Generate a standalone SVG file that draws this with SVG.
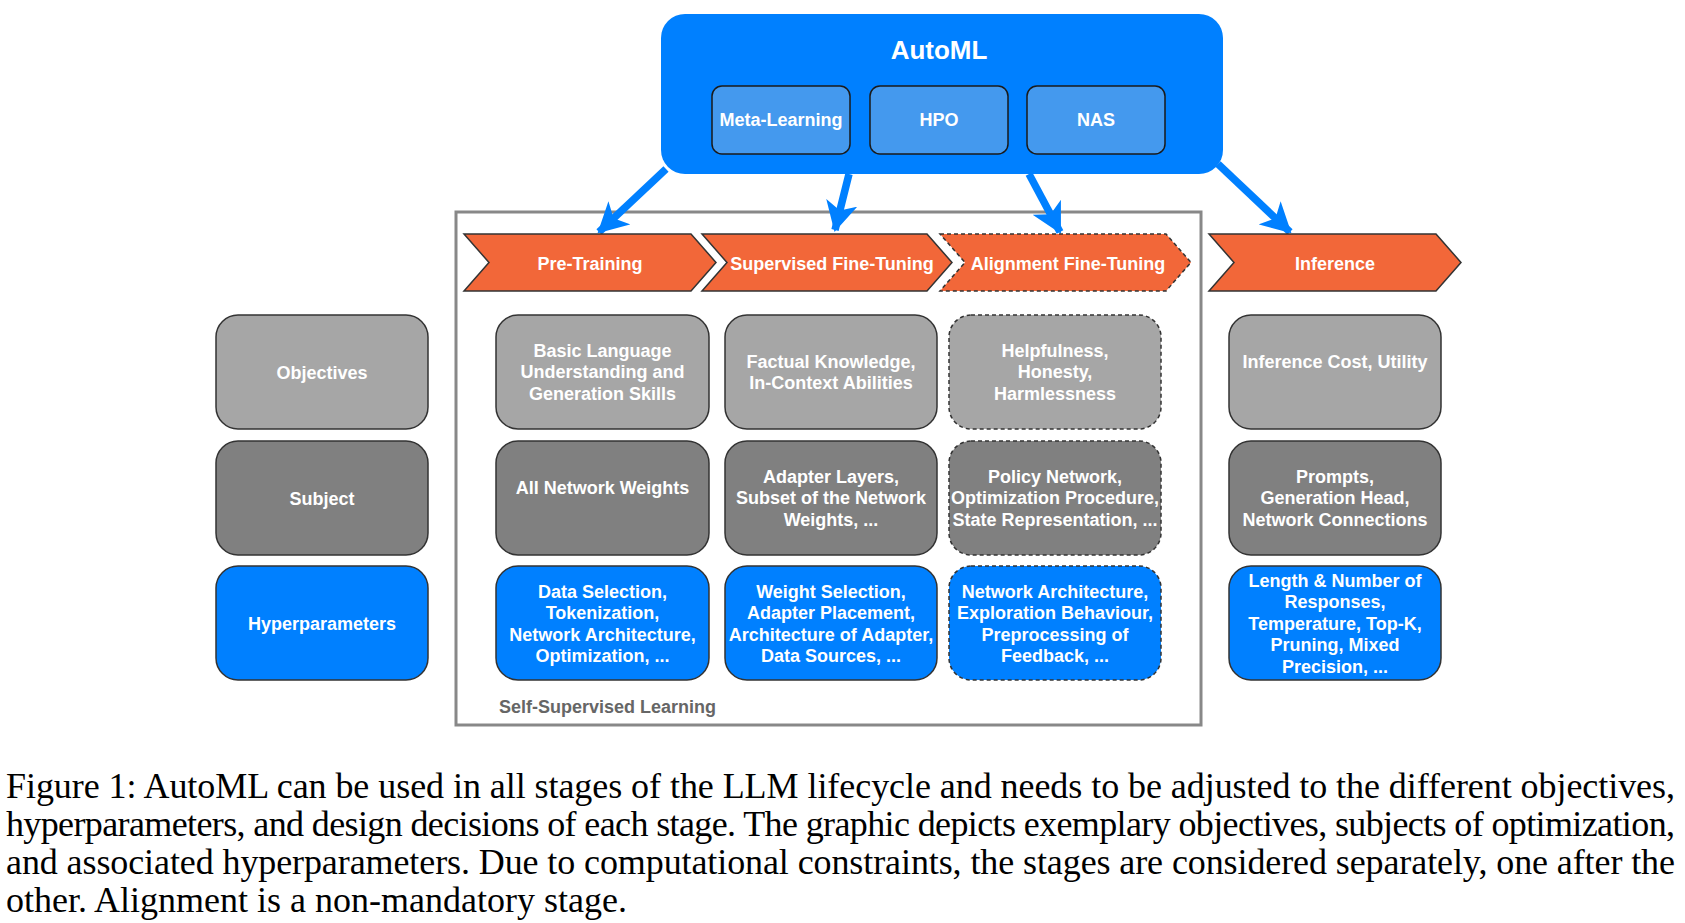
<svg xmlns="http://www.w3.org/2000/svg" width="1685" height="923" viewBox="0 0 1685 923">
<style>
.lbl{font-family:"Liberation Sans",Arial,sans-serif;font-weight:bold;font-size:18px;fill:#ffffff;text-anchor:middle}
.obj{fill:#a6a6a6;stroke:#333333;stroke-width:1.5}
.sub{fill:#808080;stroke:#333333;stroke-width:1.5}
.hyp{fill:#0080ff;stroke:#333333;stroke-width:1.5}
.dash{stroke-dasharray:4 3}
.chev{fill:#f26739;stroke:#333333;stroke-width:1.5}
.tech{fill:#4499ee;stroke:#1a1a1a;stroke-width:1.5}
.conn{stroke:#0080ff;stroke-width:7.5;fill:none;marker-end:url(#ah)}
.cap{font-family:"Liberation Serif","Times New Roman",serif;font-size:36px;fill:#000000}
</style>
<defs>
<marker id="ah" markerUnits="userSpaceOnUse" markerWidth="30" markerHeight="32" viewBox="0 0 30 32" refX="28" refY="16" orient="auto">
<path d="M0,0 L30,16 L0,32 L8,16 Z" fill="#0080ff"/>
</marker>
</defs>
<rect width="1685" height="923" fill="#ffffff"/>

<g id="frame">
<rect x="456" y="212" width="745" height="513" fill="none" stroke="#888888" stroke-width="3"/>
<text x="499" y="713" style="font-family:'Liberation Sans',Arial,sans-serif;font-weight:bold;font-size:18px;fill:#666666">Self-Supervised Learning</text>
</g>

<g id="automl">
<rect x="661" y="14" width="562" height="160" rx="24" fill="#0080ff"/>
<text x="939" y="59" class="lbl" style="font-size:26px">AutoML</text>
</g>
<g id="meta-learning"><rect x="712" y="86" width="138" height="68" rx="10" class="tech"/><text x="781" y="126" class="lbl">Meta-Learning</text></g>
<g id="hpo"><rect x="870" y="86" width="138" height="68" rx="10" class="tech"/><text x="939" y="126" class="lbl">HPO</text></g>
<g id="nas"><rect x="1027" y="86" width="138" height="68" rx="10" class="tech"/><text x="1096" y="126" class="lbl">NAS</text></g>

<g id="connectors">
<line x1="666" y1="169" x2="599" y2="232" class="conn"/>
<line x1="849" y1="174" x2="835" y2="230" class="conn"/>
<line x1="1029" y1="174" x2="1060" y2="232" class="conn"/>
<line x1="1218" y1="164" x2="1290" y2="232" class="conn"/>
</g>

<g id="pre-training"><path d="M464,234 L691,234 L716,262.5 L691,291 L464,291 L489,262.5 Z" class="chev"/><text x="590" y="270" class="lbl">Pre-Training</text></g>
<g id="supervised-fine-tuning"><path d="M702,234 L927,234 L952,262.5 L927,291 L702,291 L727,262.5 Z" class="chev"/><text x="832" y="270" class="lbl">Supervised Fine-Tuning</text></g>
<g id="alignment-fine-tuning"><path d="M940,234 L1166,234 L1191,262.5 L1166,291 L940,291 L965,262.5 Z" class="chev dash"/><text x="1068" y="270" class="lbl">Alignment Fine-Tuning</text></g>
<g id="inference"><path d="M1209,234 L1436,234 L1461,262.5 L1436,291 L1209,291 L1234,262.5 Z" class="chev"/><text x="1335" y="270" class="lbl">Inference</text></g>

<g id="objectives"><rect x="216" y="315" width="212" height="114" rx="22" class="obj"/><text x="322" y="378.5" class="lbl">Objectives</text></g>
<g id="subject"><rect x="216" y="441" width="212" height="114" rx="22" class="sub"/><text x="322" y="504.5" class="lbl">Subject</text></g>
<g id="hyperparameters"><rect x="216" y="566" width="212" height="114" rx="22" class="hyp"/><text x="322" y="629.5" class="lbl">Hyperparameters</text></g>

<g id="pt-objectives"><rect x="496" y="315" width="213" height="114" rx="22" class="obj"/><text class="lbl"><tspan x="602.5" y="356.5">Basic Language</tspan><tspan x="602.5" y="378">Understanding and</tspan><tspan x="602.5" y="399.5">Generation Skills</tspan></text></g>
<g id="pt-subject"><rect x="496" y="441" width="213" height="114" rx="22" class="sub"/><text x="602.5" y="493.5" class="lbl">All Network Weights</text></g>
<g id="pt-hyperparameters"><rect x="496" y="566" width="213" height="114" rx="22" class="hyp"/><text class="lbl"><tspan x="602.5" y="597.5">Data Selection,</tspan><tspan x="602.5" y="619">Tokenization,</tspan><tspan x="602.5" y="640.5">Network Architecture,</tspan><tspan x="602.5" y="662">Optimization, ...</tspan></text></g>

<g id="sft-objectives"><rect x="725" y="315" width="212" height="114" rx="22" class="obj"/><text class="lbl"><tspan x="831" y="367.5">Factual Knowledge,</tspan><tspan x="831" y="389">In-Context Abilities</tspan></text></g>
<g id="sft-subject"><rect x="725" y="441" width="212" height="114" rx="22" class="sub"/><text class="lbl"><tspan x="831" y="482.5">Adapter Layers,</tspan><tspan x="831" y="504">Subset of the Network</tspan><tspan x="831" y="525.5">Weights, ...</tspan></text></g>
<g id="sft-hyperparameters"><rect x="725" y="566" width="212" height="114" rx="22" class="hyp"/><text class="lbl"><tspan x="831" y="597.5">Weight Selection,</tspan><tspan x="831" y="619">Adapter Placement,</tspan><tspan x="831" y="640.5">Architecture of Adapter,</tspan><tspan x="831" y="662">Data Sources, ...</tspan></text></g>

<g id="align-objectives"><rect x="949" y="315" width="212" height="114" rx="22" class="obj dash"/><text class="lbl"><tspan x="1055" y="356.5">Helpfulness,</tspan><tspan x="1055" y="378">Honesty,</tspan><tspan x="1055" y="399.5">Harmlessness</tspan></text></g>
<g id="align-subject"><rect x="949" y="441" width="212" height="114" rx="22" class="sub dash"/><text class="lbl"><tspan x="1055" y="482.5">Policy Network,</tspan><tspan x="1055" y="504">Optimization Procedure,</tspan><tspan x="1055" y="525.5">State Representation, ...</tspan></text></g>
<g id="align-hyperparameters"><rect x="949" y="566" width="212" height="114" rx="22" class="hyp dash"/><text class="lbl"><tspan x="1055" y="597.5">Network Architecture,</tspan><tspan x="1055" y="619">Exploration Behaviour,</tspan><tspan x="1055" y="640.5">Preprocessing of</tspan><tspan x="1055" y="662">Feedback, ...</tspan></text></g>

<g id="inf-objectives"><rect x="1229" y="315" width="212" height="114" rx="22" class="obj"/><text x="1335" y="367.5" class="lbl">Inference Cost, Utility</text></g>
<g id="inf-subject"><rect x="1229" y="441" width="212" height="114" rx="22" class="sub"/><text class="lbl"><tspan x="1335" y="482.5">Prompts,</tspan><tspan x="1335" y="504">Generation Head,</tspan><tspan x="1335" y="525.5">Network Connections</tspan></text></g>
<g id="inf-hyperparameters"><rect x="1229" y="566" width="212" height="114" rx="22" class="hyp"/><text class="lbl"><tspan x="1335" y="586.5">Length &amp; Number of</tspan><tspan x="1335" y="608">Responses,</tspan><tspan x="1335" y="629.5">Temperature, Top-K,</tspan><tspan x="1335" y="651">Pruning, Mixed</tspan><tspan x="1335" y="672.5">Precision, ...</tspan></text></g>

<g id="caption">
<text x="6" y="798" class="cap" textLength="1669" lengthAdjust="spacing">Figure 1: AutoML can be used in all stages of the LLM lifecycle and needs to be adjusted to the different objectives,</text>
<text x="6" y="836" class="cap" textLength="1669" lengthAdjust="spacing">hyperparameters, and design decisions of each stage. The graphic depicts exemplary objectives, subjects of optimization,</text>
<text x="6" y="874" class="cap" textLength="1669" lengthAdjust="spacing">and associated hyperparameters. Due to computational constraints, the stages are considered separately, one after the</text>
<text x="6" y="912" class="cap">other. Alignment is a non-mandatory stage.</text>
</g>
</svg>
